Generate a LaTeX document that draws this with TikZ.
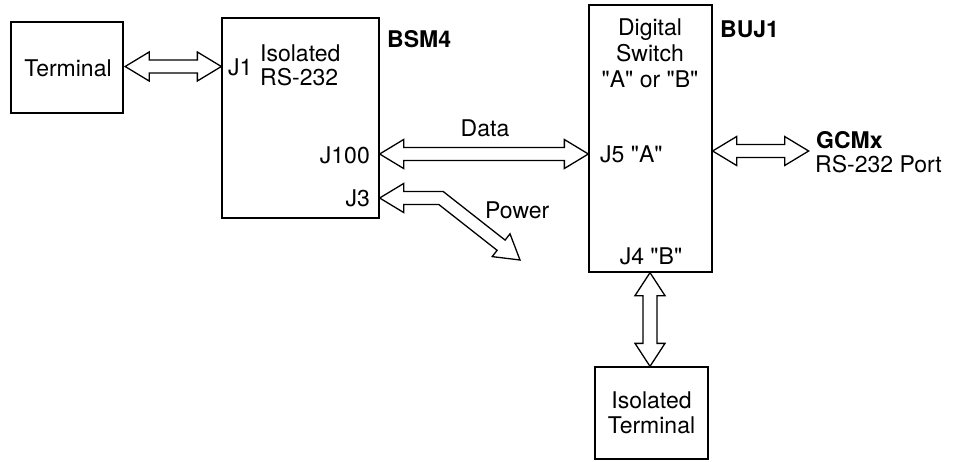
\documentclass[tikz,border=0pt]{standalone}
\usepackage{fontspec}
\setmainfont{TeX Gyre Heros}[Ligatures=TeXOff]
\usetikzlibrary{calc}
\tikzset{
  box/.style={draw, line width=1.3pt, minimum width=#1, inner sep=0pt},
  lbl/.style={inner sep=0pt, font=\fontsize{23}{25}\selectfont},
  blbl/.style={lbl, font=\fontsize{23}{25}\selectfont\bfseries},
  fat/.style={draw, line width=1.3pt, fill=white, line join=miter},
}
\newcommand\hfat[2]{\path[fat] (#1) -- ++(24,14.5) -- ++(0,-8) -- ($(#2)+(-24,6.5)$) -- ++(0,8) -- (#2) -- ++(-24,-14.5) -- ++(0,8) -- ($(#1)+(24,-6.5)$) -- ++(0,-8) -- cycle;}
\newcommand\vfat[2]{\path[fat] (#1) -- ++(15,23) -- ++(-8,0) -- ($(#2)+(7,-23)$) -- ++(8,0) -- (#2) -- ++(-15,-23) -- ++(8,0) -- ($(#1)+(-7,23)$) -- ++(-8,0) -- cycle;}
\begin{document}
\begin{tikzpicture}[x=1pt,y=-1pt]
\useasboundingbox (0,0) rectangle (953,461);
% boxes
\node[box=112pt, minimum height=91pt] (term) at (67,67.5) {};
\node[box=157pt, minimum height=200pt] (bsm) at (300.5,118) {};
\node[box=123pt, minimum height=267pt] (buj) at (650.5,138.5) {};
\node[box=113pt, minimum height=92pt] (iterm) at (651.5,413) {};
% texts
\node[lbl, anchor=base] (tt) at (68,76) {Terminal};
\node[lbl, anchor=base west] (j1) at (228,75) {J1};
\node[lbl, anchor=base west] (iso1) at (260,61) {Isolated};
\node[lbl, anchor=base west] (iso2) at (260,85) {RS-232};
\node[blbl, anchor=base west] (bsmlbl) at (387,47) {BSM4};
\node[lbl, anchor=base east] (j100) at (370,163) {J100};
\node[lbl, anchor=base east] (j3) at (370,206) {J3};
\node[lbl, anchor=base] (data) at (485,136) {Data};
\node[lbl, anchor=base west] (power) at (485,218) {Power};
\node[lbl, anchor=base] (dg1) at (650,35) {Digital};
\node[lbl, anchor=base] (dg2) at (650,61) {Switch};
\node[lbl, anchor=base] (dg3) at (650,87) {"A" or "B"};
\node[blbl, anchor=base west] (bujlbl) at (720,37) {BUJ1};
\node[lbl, anchor=base west] (j5) at (600,162) {J5 "A"};
\node[lbl, anchor=base] (j4) at (651,264) {J4 "B"};
\node[blbl, anchor=base west] (gcm) at (816,148) {GCMx};
\node[lbl, anchor=base west] (gcmport) at (815,172) {RS-232 Port};
\node[lbl, anchor=base] (it1) at (651.5,408) {Isolated};
\node[lbl, anchor=base] (it2) at (651.5,433) {Terminal};
% connector end points
\coordinate (a1) at ($(term.east)+(1.5,-1)$);
\coordinate (a2) at (a1 -| bsm.west);
\coordinate (d1) at (bsm.east |- 0,154);
\coordinate (d2) at (d1 -| buj.west);
\coordinate (g1) at (buj.east |- 0,151);
\coordinate (g2) at ($(g1)+(96,0)$);
\coordinate (v1) at (buj.south -| 650,0);
\coordinate (v2) at (v1 |- iterm.north);
\coordinate (p1) at (bsm.east |- 0,198);
\coordinate (powerend) at (520,260);
% fat double arrows
\hfat{a1}{a2}
\hfat{d1}{d2}
\hfat{g1}{g2}
\vfat{v1}{v2}
% power arrow (bent)
\path[fat] (p1) -- ++(24,-14.5) -- ++(0,8) -- (443.2,191.5) -- (505.1,240.1) -- (510.0,233.8)
  -- (powerend) -- (492.2,256.6) -- (497.1,250.3) -- (438.8,204.5) -- ($(p1)+(24,6.5)$) -- ++(0,8) -- cycle;
\end{tikzpicture}
\end{document}
